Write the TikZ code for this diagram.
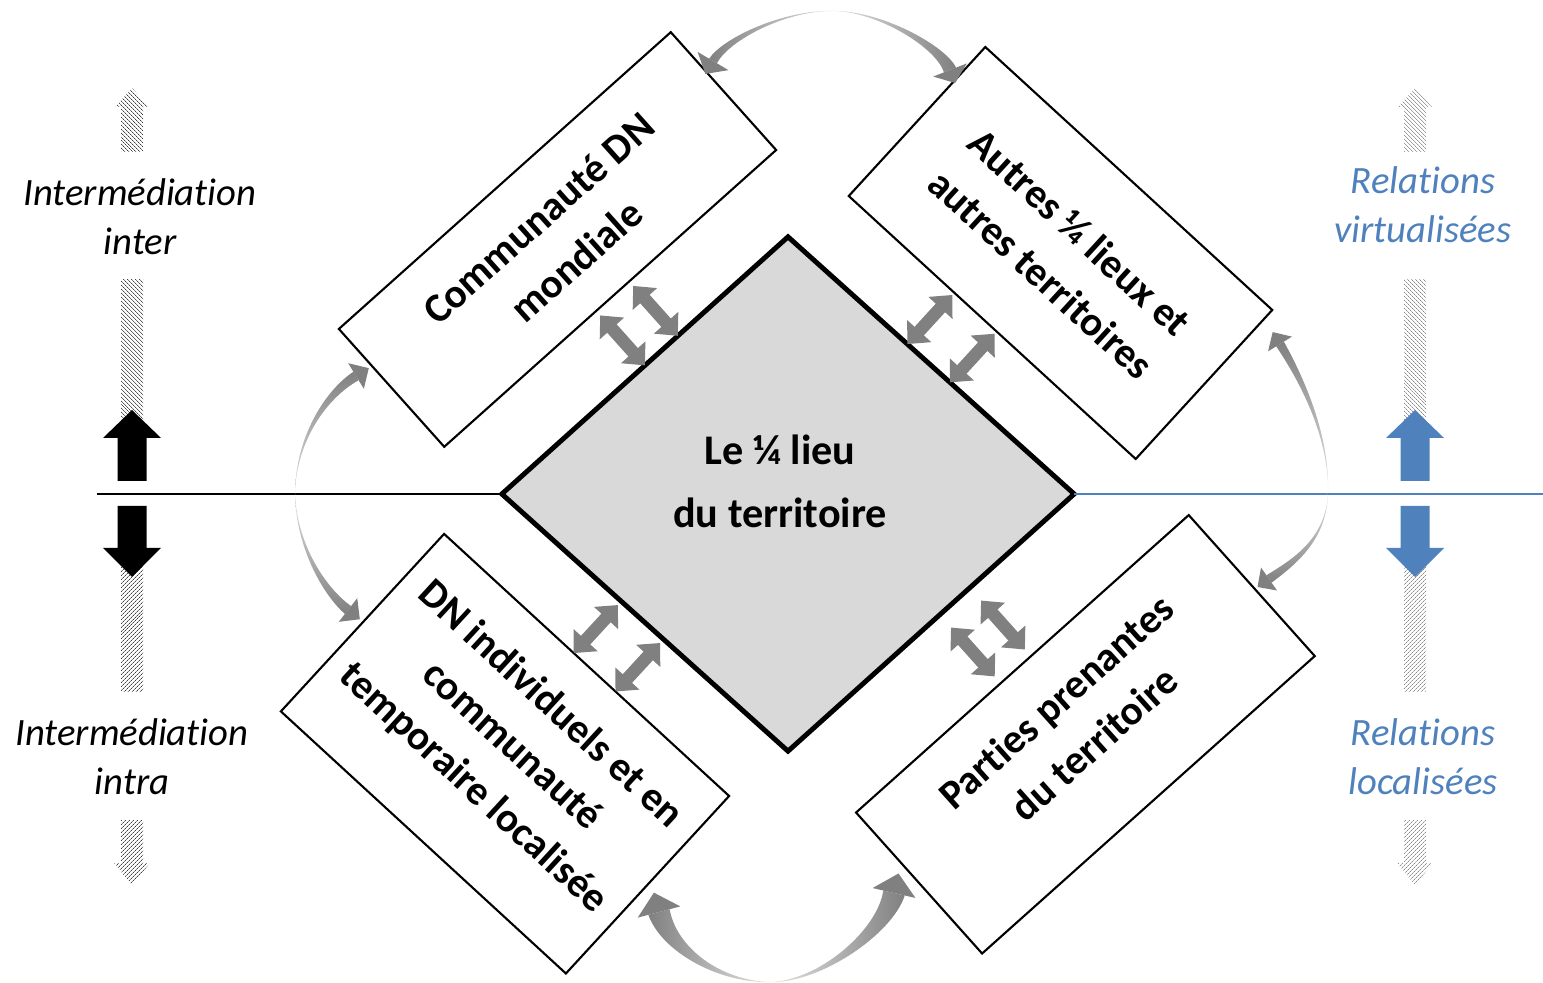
\documentclass[tikz,border=0pt]{standalone}
\usepackage{fontspec}
\setmainfont{Carlito}[Ligatures=NoCommon]
\usetikzlibrary{shapes.geometric,calc,arrows.meta,patterns,patterns.meta}

\definecolor{relblue}{RGB}{79,129,189}
\definecolor{arcdark}{RGB}{128,128,128}
\definecolor{arclight}{RGB}{228,228,228}
\definecolor{lieufill}{RGB}{217,217,217}

\tikzset{
  centre/.style={diamond, draw, line width=1.4pt, fill=lieufill, inner sep=0pt, outer sep=0pt,
    minimum width=5.72cm, minimum height=5.14cm, align=center,
    font=\bfseries\fontsize{12}{17.9}\selectfont},
  box/.style={draw, line width=0.6pt, fill=white, inner sep=0pt, outer sep=0pt, align=center,
    font=\bfseries\fontsize{11.7}{16.2}\selectfont},
  side/.style={align=center, font=\itshape\fontsize{11}{13.9}\selectfont},
  dblarrow/.style={draw=arcdark, line width=3.6pt,
    arrows={Triangle[width=9pt,length=5pt]-Triangle[width=9pt,length=5pt]}},
  fadeL/.style={left color=arcdark, right color=arclight},
  fadeR/.style={left color=arclight, right color=arcdark},
  fadeU/.style={top color=arcdark, bottom color=arclight},
  fadeD/.style={top color=arclight, bottom color=arcdark},
  hatchup/.style={pattern={Lines[angle=-45,distance=0.9pt,line width=0.3pt]}},
  hatchdown/.style={pattern={Lines[angle=45,distance=0.9pt,line width=0.3pt]}}
}

% half of a curved arrow: middle, control, control, end, half width, head half width, head length, fade
\newcommand{\halfarrow}[8]{%
  \shade[#8] #1 .. controls ($#2!0.15*#5!90:#3$) and ($#3!0.7*#5!90:#4$) .. ($#4!#5!-90:#3$)
    -- ($#4!#5!90:#3$) .. controls ($#3!0.7*#5!-90:#4$) and ($#2!0.15*#5!-90:#3$) .. #1 -- cycle;
  \fill[arcdark] ($#4!#6!90:#3$) -- ($#4!-#7!#3$) -- ($#4!#6!-90:#3$) -- cycle;
}

\begin{document}
\begin{tikzpicture}[x=0.01cm, y=-0.01cm]
\useasboundingbox (0,0) rectangle (1543,983);

% the 1/4 lieu and the four boxes
\node[centre, text depth=2.5mm] (lieu) at (788,494) {Le ¼ lieu\hspace*{1.6mm}\\du territoire\hspace*{1.6mm}};
\node[box, rotate=41.8, minimum width=4.45cm, minimum height=1.58cm] (comm) at (557.5,239.5) {Communauté DN\\mondiale}; %top left
\node[box, rotate=-42.5, minimum width=3.89cm, minimum height=2.02cm] (autres) at (1060.5,253) {Autres ¼ lieux et\\autres territoires}; %top right
\node[box, rotate=-42.6, minimum width=3.87cm, minimum height=2.41cm, text depth=2.6mm] (dnloc) at (505,753.7) {DN individuels et en\\communauté\\temporaire localisée}; %bottom left
\node[box, rotate=41.8, minimum width=4.46cm, minimum height=1.89cm, text height=5.4mm] (parties) at (1085.4,734.3) {Parties prenantes\\du territoire}; %bottom right

% horizontal axis
\coordinate (axl) at (97,494);
\coordinate (axr) at (1543,494);
\draw[line width=0.7pt] (axl) -- (lieu.west);
\draw[relblue, line width=0.7pt] (lieu.east) -- (axr);

% double arrows between the boxes and the 1/4 lieu
\coordinate (d1) at ($(lieu.west)!0.50!(lieu.north)$);
\coordinate (d2) at ($(lieu.west)!0.615!(lieu.north)$);
\coordinate (d3) at ($(lieu.north)!0.417!(lieu.east)$);
\coordinate (d4) at ($(lieu.north)!0.566!(lieu.east)$);
\coordinate (d5) at ($(lieu.west)!0.4175!(lieu.south)$);
\coordinate (d6) at ($(lieu.west)!0.565!(lieu.south)$);
\coordinate (d7) at ($(lieu.east)!0.365!(lieu.south)$);
\coordinate (d8) at ($(lieu.east)!0.47!(lieu.south)$);
\draw[dblarrow, shorten >=0.6mm] (d1) -- ($(comm.south west)!(d1)!(comm.south east)$);
\draw[dblarrow, shorten >=0.6mm] (d2) -- ($(comm.south west)!(d2)!(comm.south east)$);
\draw[dblarrow, shorten >=0.3mm] (d3) -- ($(autres.south west)!(d3)!(autres.south east)$);
\draw[dblarrow, shorten >=0.3mm] (d4) -- ($(autres.south west)!(d4)!(autres.south east)$);
\draw[dblarrow, shorten <=0.5mm] (d5) -- ($(dnloc.north west)!(d5)!(dnloc.north east)$);
\draw[dblarrow, shorten <=0.5mm] (d6) -- ($(dnloc.north west)!(d6)!(dnloc.north east)$);
\draw[dblarrow, shorten <=1.7mm, shorten >=0.9mm] (d7) -- ($(parties.north west)!(d7)!(parties.north east)$);
\draw[dblarrow, shorten <=1.7mm, shorten >=0.9mm] (d8) -- ($(parties.north west)!(d8)!(parties.north east)$);

% curved arrows between the boxes
\halfarrow{(833,11)}{(785,10)}{(726,39)}{(713,61)}{0.45mm}{1.8mm}{1.5mm}{fadeL} %top
\halfarrow{(833,11)}{(880,11)}{(941,47)}{(950,70)}{0.65mm}{1.8mm}{1.4mm}{fadeR}
\halfarrow{(295,493)}{(296,440)}{(325,395)}{(356,376)}{0.5mm}{1.5mm}{1.5mm}{fadeU} %left
\halfarrow{(295,493)}{(296,546)}{(325,592)}{(348,610)}{0.5mm}{1.5mm}{1.5mm}{fadeD}
\halfarrow{(1328,490)}{(1329,430)}{(1296,370)}{(1280,344)}{0.45mm}{1.4mm}{1.4mm}{fadeU} %right
\halfarrow{(1328,490)}{(1328,540)}{(1292,563)}{(1269,579)}{0.45mm}{1.4mm}{1.4mm}{fadeD}
\halfarrow{(770,982)}{(720,982)}{(669,950)}{(659,912)}{1.1mm}{2.2mm}{2mm}{fadeL} %bottom
\halfarrow{(770,982)}{(820,982)}{(885,932)}{(894,893)}{1.1mm}{2.2mm}{2mm}{fadeR}

% vertical arrows, left and right
\foreach \x/\c/\h in {132/black/black!75, 1415/relblue/black!45}{
  \path[hatchup, pattern color=\h] (\x-11,152) -- (\x-11,107) -- (\x-17,107) -- (\x,88) -- (\x+17,107) -- (\x+11,107) -- (\x+11,152) -- cycle; %small up
  \path[hatchup, pattern color=\h] (\x-11,280) rectangle (\x+11,425); %upper tail
  \fill[\c] (\x-14.5,481) -- (\x-14.5,438) -- (\x-29,438) -- (\x,410) -- (\x+29,438) -- (\x+14.5,438) -- (\x+14.5,481) -- cycle; %up
  \path[hatchdown, pattern color=\h] (\x-11,565) rectangle (\x+11,692); %lower tail
  \fill[\c] (\x-14.5,506) -- (\x-14.5,548) -- (\x-29,548) -- (\x,577) -- (\x+29,548) -- (\x+14.5,548) -- (\x+14.5,506) -- cycle; %down
  \path[hatchdown, pattern color=\h] (\x-11,820) -- (\x-11,863) -- (\x-18,863) -- (\x,885) -- (\x+18,863) -- (\x+11,863) -- (\x+11,820) -- cycle; %small down
}

% side labels
\node[side] (inter) at (140,217) {Intermédiation\\inter};
\node[side] (intra) at (132,757) {Intermédiation\\intra};
\node[side, text=relblue] (virt) at (1423,205) {Relations\\virtualisées};
\node[side, text=relblue] (loc) at (1423,757) {Relations\\localisées};

\end{tikzpicture}
\end{document}
